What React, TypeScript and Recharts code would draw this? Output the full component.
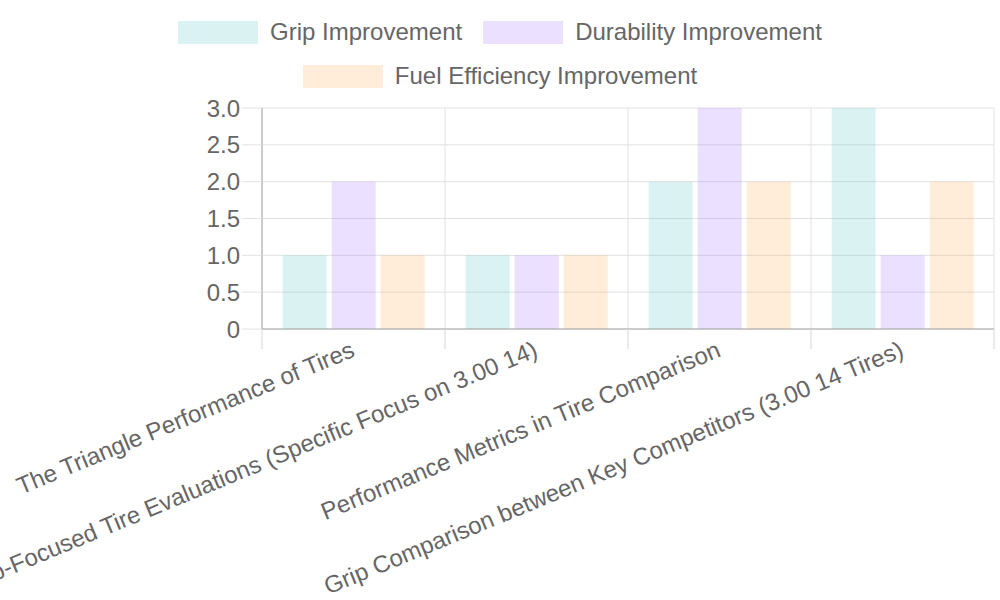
import React from 'react'
import {
  BarChart,
  Bar,
  XAxis,
  YAxis,
  CartesianGrid
} from 'recharts'

const categories = [
  'The Triangle Performance of Tires',
  'Grip-Focused Tire Evaluations (Specific Focus on 3.00 14)',
  'Performance Metrics in Tire Comparison',
  'Grip Comparison between Key Competitors (3.00 14 Tires)'
]

const gripValues = [1, 1, 2, 3]
const durabilityValues = [2, 1, 3, 1]
const fuelValues = [1, 1, 2, 2]

const yTicks = [0, 0.5, 1, 1.5, 2, 2.5, 3]

const series = [
  { key: 'grip', label: 'Grip Improvement', color: 'rgb(75, 192, 192)' },
  { key: 'durability', label: 'Durability Improvement', color: 'rgb(153, 102, 255)' },
  { key: 'fuel', label: 'Fuel Efficiency Improvement', color: 'rgb(255, 159, 64)' }
]

const data = categories.map((name, i) => ({
  name,
  grip: gripValues[i],
  durability: durabilityValues[i],
  fuel: fuelValues[i]
}))

const FONT = "'Liberation Sans', Arial, Helvetica, sans-serif"
const TEXT = '#666'
const GRID = '#e2e2e2'
const AXIS = '#a6a6a6'

// rotated category label plus the boundary ticks below the axis
const CategoryTick = (props: any) => {
  const { x, y, payload, width, visibleTicksCount } = props
  const half =
    payload && typeof payload.offset === 'number' && payload.offset > 0
      ? payload.offset
      : width / visibleTicksCount / 2
  const lx = x - 4
  const ly = y + 11
  const isLast = payload.index === visibleTicksCount - 1
  return (
    <g>
      <line x1={x - half} x2={x - half} y1={y} y2={y + 20} stroke="#d6d6d6" />
      {isLast && (
        <line x1={x + half} x2={x + half} y1={y} y2={y + 20} stroke="#d6d6d6" />
      )}
      <text
        x={lx}
        y={ly}
        dy="0.72em"
        textAnchor="end"
        fill={TEXT}
        fontSize={24}
        fontFamily={FONT}
        transform={`rotate(-22.5, ${lx}, ${ly})`}
      >
        {payload.value}
      </text>
    </g>
  )
}

const TopLegend = () => (
  <div
    style={{
      position: 'absolute',
      top: 10,
      left: 150,
      width: 700,
      display: 'flex',
      flexWrap: 'wrap',
      justifyContent: 'center',
      columnGap: 21,
      fontFamily: FONT,
      fontSize: 24,
      color: TEXT
    }}
  >
    {series.map((s) => (
      <div
        key={s.key}
        style={{ display: 'flex', alignItems: 'center', height: 44, whiteSpace: 'nowrap' }}
      >
        <span
          style={{
            display: 'inline-block',
            width: 80,
            height: 23,
            marginRight: 12,
            background: s.color,
            opacity: 0.2
          }}
        />
        <span>{s.label}</span>
      </div>
    ))}
  </div>
)

export default function App() {
  return (
    <div style={{ position: 'absolute', top: 0, left: 0, width: 1000, height: 600, background: '#fff' }}>
      <BarChart
        width={1000}
        height={600}
        data={data}
        margin={{ top: 108, right: 6, bottom: 0, left: 0 }}
        barCategoryGap="11.3%"
        barGap={5}
      >
        <CartesianGrid
          stroke={GRID}
          verticalCoordinatesGenerator={({ offset }: any) =>
            categories.map((_, i) => offset.left + (i * offset.width) / categories.length).concat(offset.left + offset.width)
          }
        />
        <XAxis
          dataKey="name"
          interval={0}
          height={271}
          tickSize={0}
          tickMargin={0}
          tickLine={false}
          axisLine={{ stroke: AXIS }}
          tick={<CategoryTick />}
        />
        <YAxis
          width={262}
          domain={[0, 3]}
          ticks={yTicks}
          tickSize={20}
          tickMargin={2}
          tickLine={{ stroke: GRID }}
          axisLine={{ stroke: AXIS }}
          tick={{ fill: TEXT, fontSize: 24, fontFamily: FONT }}
          tickFormatter={(v: number) => (v === 0 ? '0' : v.toFixed(1))}
        />
        {series.map((s) => (
          <Bar
            key={s.key}
            dataKey={s.key}
            name={s.label}
            fill={s.color}
            fillOpacity={0.2}
            isAnimationActive={false}
          />
        ))}
      </BarChart>
      <TopLegend />
    </div>
  )
}
